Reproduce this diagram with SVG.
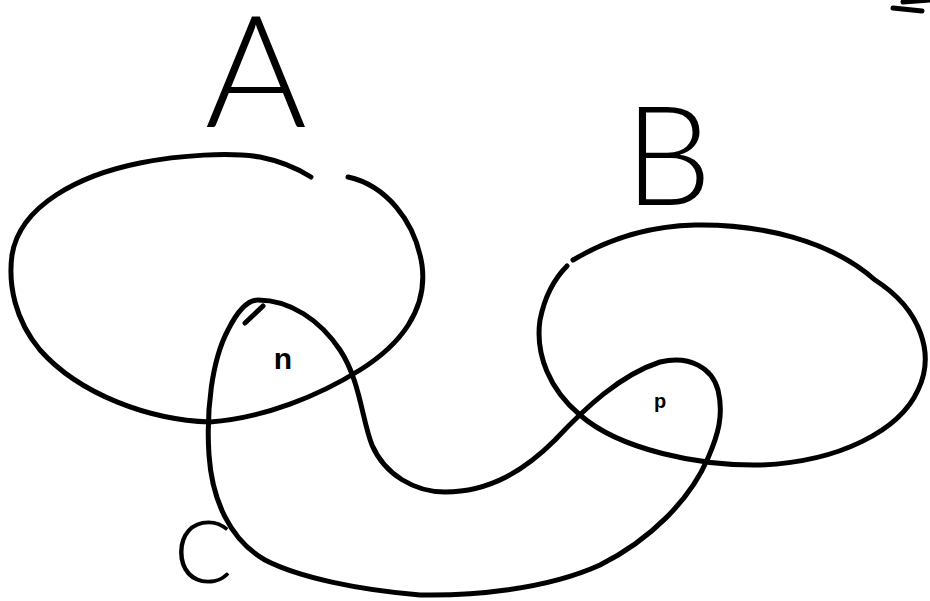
<svg xmlns="http://www.w3.org/2000/svg" width="930" height="601" viewBox="0 0 930 601">
<style>
.ln{fill:none;stroke:#000;stroke-width:5;stroke-linecap:round;stroke-linejoin:round}
.lbl{font-family:"Lato","Liberation Sans",sans-serif;font-weight:300;fill:#000;text-anchor:middle}
.mk{font-family:"Liberation Sans","DejaVu Sans",sans-serif;font-weight:700;fill:#000;text-anchor:middle}
</style>
<rect width="930" height="601" fill="#fff"/>
<g id="set-A">
<path class="ln" d="M348,177 C385,185 415,220 422,265 C428,310 400,345 360,370 C320,395 265,418 210,422 C150,420 80,395 40,350 C15,320 8,285 12,255 C20,205 80,175 140,163 C180,155 230,152 260,157 C285,162 300,170 311,177"/>
<text class="lbl" x="256" y="127" font-size="156">A</text>
</g>
<g id="set-B">
<path class="ln" d="M573,260 C610,238 650,226 695,225 C760,224 830,240 875,280 C922,310 935,355 918,390 C900,430 840,462 760,465 C700,466 620,450 580,415 C550,390 535,355 540,320 C545,295 555,278 567,266"/>
<text class="lbl" x="668" y="205" font-size="138">B</text>
</g>
<g id="set-C">
<path class="ln" d="M258,300 C290,300 320,320 340,350 C360,380 362,420 372,445 C385,475 415,492 445,492 C490,492 525,470 555,440 C585,408 620,375 660,362 C690,355 712,368 718,390 C724,415 718,435 708,458 C690,500 650,540 600,565 C545,590 470,596 420,595 C360,590 300,578 265,560 C230,540 212,500 209,455 C206,410 212,360 228,330 C238,310 248,300 258,300"/>
<path class="ln" d="M245,323 L263,306"/>
<text class="lbl" x="203" y="583" font-size="86">C</text>
</g>
<g id="marks">
<text class="mk" x="283" y="369" font-size="30">n</text>
<text class="mk" x="660" y="408" font-size="20">p</text>
<path class="ln" d="M893,8 L922,11" stroke-width="8"/>
<path class="ln" d="M903,2 L930,0" stroke-width="3"/>
</g>
</svg>
